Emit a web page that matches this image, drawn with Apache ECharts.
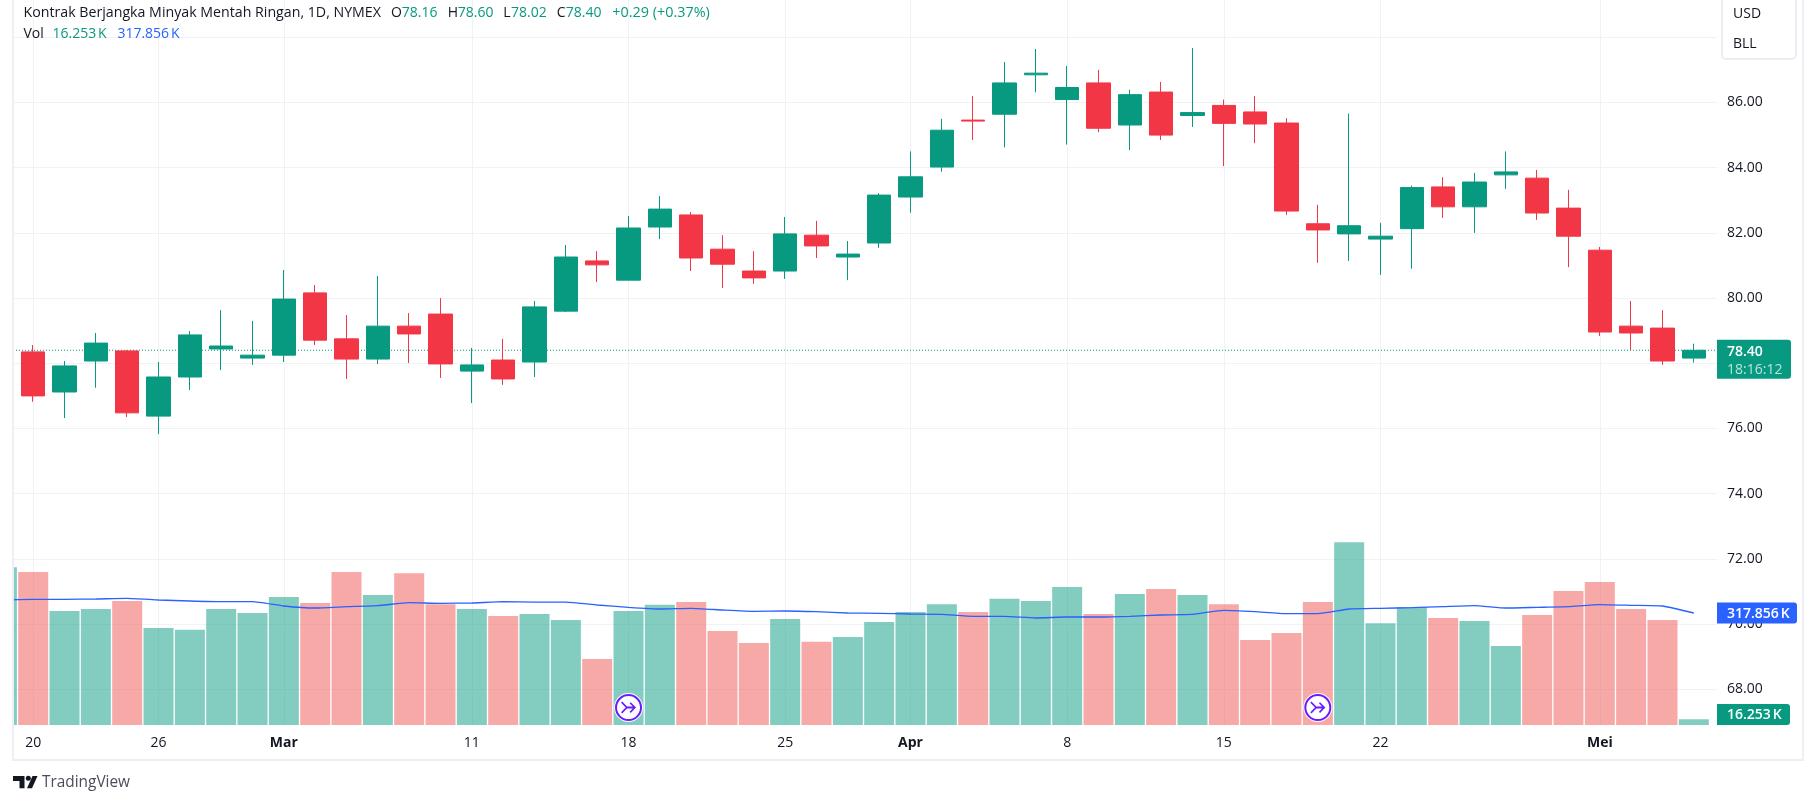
<!DOCTYPE html>
<html><head><meta charset="utf-8">
<style>html,body{margin:0;padding:0;background:#fff}#c{width:1815px;height:804px}</style>
<script src="https://cdn.jsdelivr.net/npm/echarts@6/dist/echarts.min.js"></script>
</head><body><div id="c"></div>
<script>
const opens  = [78.35,77.12,78.07,78.38,76.38,77.58,78.44,78.16,78.25,80.16,78.75,78.13,79.14,79.51,77.76,78.10,78.04,79.60,81.14,80.55,82.18,82.55,81.50,80.83,80.83,81.93,81.26,81.69,83.10,84.02,85.46,85.64,86.85,86.09,86.60,85.31,86.32,85.60,85.91,85.71,85.37,82.28,81.97,81.81,82.13,83.41,82.80,83.78,83.68,82.76,81.47,79.14,79.08,78.16];
const closes = [77.00,77.92,78.62,76.48,77.58,78.87,78.53,78.25,79.97,78.71,78.13,79.14,78.90,77.98,77.95,77.52,79.73,81.26,81.02,82.15,82.73,81.23,81.04,80.62,81.97,81.60,81.35,83.16,83.72,85.15,85.43,86.60,86.90,86.46,85.21,86.24,85.00,85.69,85.36,85.34,82.67,82.09,82.22,81.90,83.39,82.80,83.56,83.87,82.61,81.90,78.96,78.93,78.07,78.40];
const lows   = [76.82,76.32,77.25,76.35,75.83,77.18,77.79,77.95,78.04,78.56,77.52,77.98,78.01,77.55,76.78,77.34,77.58,79.57,80.49,80.55,81.81,80.83,80.31,80.44,80.59,81.23,80.55,81.54,82.62,83.88,84.85,84.62,86.31,84.71,85.09,84.54,84.85,85.25,84.05,84.75,82.55,81.08,81.14,80.71,80.90,82.46,82.00,83.35,82.40,80.95,78.84,78.41,77.95,78.02];
const highs  = [78.56,78.07,78.93,78.40,78.04,78.99,79.63,79.30,80.86,80.40,79.48,80.68,79.54,80.00,78.47,78.75,79.91,81.63,81.44,82.52,83.13,82.64,81.93,81.44,82.49,82.37,81.75,83.22,84.50,85.50,86.20,87.24,87.64,87.12,87.00,86.39,86.63,87.67,86.09,86.20,85.52,82.86,85.66,82.31,83.45,83.71,83.84,84.50,83.93,83.32,81.57,79.91,79.63,78.60];
const volumes = [434,323.5,329,352,275,270,329,318,363,346,434,369,431,343,329,309,315,298,187,323.5,341,349,267,233,301,236,250,292,321,343,321,358,352,392,315,372,386,369,343,241,261,349,519,289,335,304,295,224,312,380,406,329,298,16.253];
const volumeBeforeFirst = 448;
const volumeMA = [356.6,356.6,357.6,359.5,354.8,351.9,350,350,337.7,332,335.8,338.7,347.2,345.3,346.2,350,349,349,340.6,333.9,329.2,331.1,326.4,322.6,323.5,321.6,317.9,316.9,315,314.1,308.4,308.4,303.7,306.5,306.5,308.4,312.2,314.1,325.4,321.6,316,316,329.2,331.1,333,335.8,338.7,332,333.9,335.8,341.5,339.6,337.7,317.856];
const volumeMABeforeFirst = 354.8;
const tickIndex  = [0,4,8,14,19,24,28,33,38,43,50];
const tickLabels = ["20","26","Mar","11","18","25","Apr","8","15","22","Mei"];
const boldLabels = ["Mar","Apr","Mei"];
const priceTicks = [68,70,72,74,76,78,80,82,84,86,88];
const eventIndex = [19,41];
const lastPrice = 78.40, lastVolume = 16.253, lastMA = 317.856;

const GREEN='#089981', RED='#f23645', FONT='"Open Sans", sans-serif', INK='#131722';
const PRICE_MIN=66.905, PRICE_MAX=89.144, VOL_MAX=2057.6, EVENT_Y=67.44;
const X_MIN=-0.645, X_MAX=53.74;

const isUp = i => closes[i] >= opens[i];
const chart = echarts.init(document.getElementById('c'), null, {renderer:'canvas'});

const volData = [{value:[-1,volumeBeforeFirst],itemStyle:{color:'rgba(8,153,129,0.5)'}}].concat(
  volumes.map((v,i)=>({value:[i,v],itemStyle:{color:isUp(i)?'rgba(8,153,129,0.5)':'rgba(239,83,80,0.5)'}})));

const legendTexts = [
  ['Kontrak Berjangka Minyak Mentah Ringan, 1D, NYMEX',23.5,13,INK,14.2],
  ['O',391,13,INK,14],['78.16',401.7,13,GREEN,14],
  ['H',447.7,13,INK,14],['78.60',457.7,13,GREEN,14],
  ['L',503.3,13,INK,14],['78.02',511,13,GREEN,14],
  ['C',556.7,13,INK,14],['78.40',565.7,13,GREEN,14],
  ['+0.29 (+0.37%)',612.3,13,GREEN,14.4],
  ['Vol',23.5,34,INK,14],['16.253\u202fK',52.6,34,GREEN,14],['317.856\u202fK',117.4,34,'#2962ff',14],
  ['USD',1733,14.5,INK,14],['BLL',1733,44.5,INK,14],
  ['TradingView',42,782.5,'#4a4e59',15.4]
];
const txt = ([t,x,y,c,s]) => ({type:'text',x,y,z:60,silent:true,style:{text:t,fill:c,font:s+'px '+FONT,textVerticalAlign:'middle'}});

const staticGraphics = [
  {type:'rect',z:54,silent:true,shape:{x:0,y:0,width:12,height:760},style:{fill:'#fff'}},
  {type:'rect',z:55,silent:true,shape:{x:13,y:-6,width:1790,height:766},style:{fill:'none',stroke:'#eeeef4',lineWidth:2}},
  {type:'rect',z:50,silent:true,shape:{x:1722,y:-10,width:74,height:69,r:4},style:{fill:'#fff',stroke:'#e6e8ef',lineWidth:1.5}},
  {type:'polygon',z:60,silent:true,shape:{points:[[13,776],[24.5,776],[24.5,788.3],[19.5,788.3],[19.5,781],[13,781]]},style:{fill:INK}},
  {type:'circle',z:60,silent:true,shape:{cx:28.3,cy:778.3,r:2.5},style:{fill:INK}},
  {type:'polygon',z:60,silent:true,shape:{points:[[32.5,776],[37.5,776],[32,788.3],[27,788.3]]},style:{fill:INK}}
].concat(legendTexts.map(txt));

chart.setOption({
  animation:false,
  graphic:{elements:staticGraphics},
  grid:{left:13,top:0,width:1704,height:725,containLabel:false},
  xAxis:{type:'value',min:X_MIN,max:X_MAX,position:'bottom',
    axisLine:{show:false},
    axisTick:{show:false,customValues:tickIndex},
    splitLine:{show:true,lineStyle:{color:'#f1f2f6',width:1}},
    axisLabel:{customValues:tickIndex,margin:11,color:INK,fontFamily:FONT,fontSize:14,
      formatter:v=>{const l=tickLabels[tickIndex.indexOf(v)];return boldLabels.includes(l)?'{b|'+l+'}':l;},
      rich:{b:{fontWeight:'bold',fontFamily:FONT,fontSize:14,color:INK}}}},
  yAxis:[
    {type:'value',min:PRICE_MIN,max:PRICE_MAX,position:'right',
     axisLine:{show:false},
     axisTick:{show:false,customValues:priceTicks},
     splitLine:{show:true,lineStyle:{color:'#f1f2f6',width:1}},
     axisLabel:{customValues:priceTicks,margin:10,padding:[3,0,0,0],color:INK,fontFamily:FONT,fontSize:14,formatter:v=>v.toFixed(2)}},
    {type:'value',min:0,max:VOL_MAX,show:false,splitLine:{show:false}}
  ],
  series:[
    {type:'bar',name:'Vol',xAxisIndex:0,yAxisIndex:1,barWidth:30,z:1,clip:true,data:volData},
    {type:'line',name:'Vol MA',xAxisIndex:0,yAxisIndex:1,z:2,showSymbol:false,smooth:0.15,
     lineStyle:{color:'#2962ff',width:1.3},
     data:[[-1,volumeMABeforeFirst]].concat(volumeMA.map((v,i)=>[i,v]))},
    {type:'line',name:'Last',xAxisIndex:0,yAxisIndex:0,z:2,showSymbol:false,silent:true,
     lineStyle:{color:GREEN,width:1,type:[1,2]},
     data:[[X_MIN,lastPrice],[X_MAX,lastPrice]]},
    {type:'candlestick',name:'CL1!',xAxisIndex:0,yAxisIndex:0,z:3,barWidth:24,
     itemStyle:{color:GREEN,color0:RED,borderColor:GREEN,borderColor0:RED,borderWidth:1},
     data:opens.map((o,i)=>[i,o,closes[i],lows[i],highs[i]])},
    {type:'scatter',name:'evHalo',z:4,silent:true,symbol:'circle',symbolSize:29,itemStyle:{color:'#fff',opacity:0.95},
     data:eventIndex.map(i=>[i,EVENT_Y])},
    {type:'scatter',name:'evRing',z:5,silent:true,symbol:'circle',symbolSize:25,
     itemStyle:{color:'#fff',borderColor:'#6a1bff',borderWidth:2,opacity:1},
     data:eventIndex.map(i=>[i,EVENT_Y])},
    {type:'scatter',name:'evIcon',z:6,silent:true,symbolSize:[15,12],
     symbol:'path://M0 1.2 L1.2 0 L6.2 5 L12 5 L8.8 1.8 L10 0.6 L15.4 6 L10 11.4 L8.8 10.2 L12 7 L6.2 7 L1.2 12 L0 10.8 L4.8 6 Z',
     itemStyle:{color:'#6a1bff',opacity:1},
     data:eventIndex.map(i=>[i,EVENT_Y])}
  ]
});

// price-scale tags follow the series' last values
const yP = chart.convertToPixel({yAxisIndex:0},lastPrice);
const yM = chart.convertToPixel({yAxisIndex:1},lastMA);
const tag = (x,y,w,h,fill)=>({type:'rect',z:70,silent:true,shape:{x,y,width:w,height:h,r:[0,3,3,0]},style:{fill}});
const label = (t,x,y,fill,bold)=>({type:'text',z:71,x,y,silent:true,style:{text:t,fill,font:(bold?'600 ':'')+'14px '+FONT,textVerticalAlign:'middle'}});
const tagTop = Math.min(yM-10.5,725-21);
chart.setOption({graphic:{elements:staticGraphics.concat([
  tag(1717,yP-10.5,74,39,GREEN),
  label(lastPrice.toFixed(2),1727,yP+1.5,'#fff',true),
  label('18:16:12',1727,yP+20,'rgba(255,255,255,0.72)',false),
  tag(1717,tagTop,80,21,'#2962ff'),
  label(lastMA.toFixed(3)+'\u202fK',1727,tagTop+11.5,'#fff',true),
  tag(1717,725-21,73,21,GREEN),
  label(lastVolume.toFixed(3)+'\u202fK',1727,725-9.5,'#fff',true)
])}});
</script></body></html>
